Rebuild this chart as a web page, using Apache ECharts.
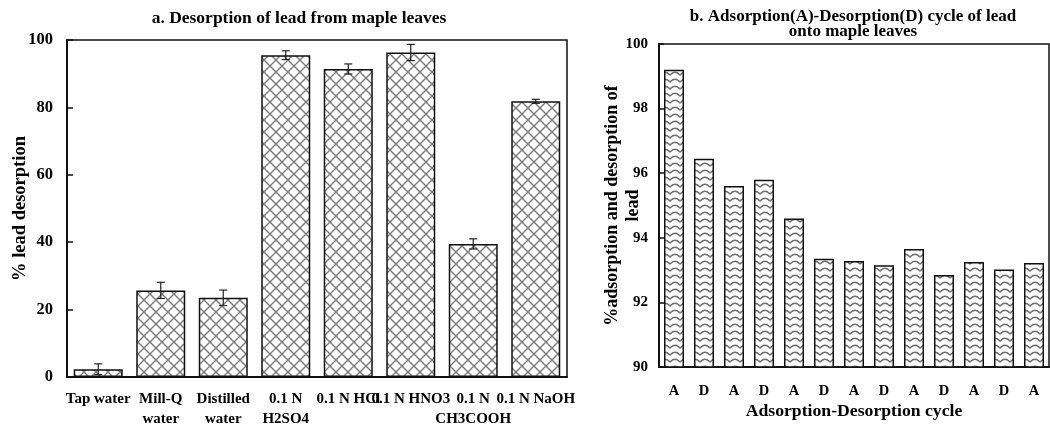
<!DOCTYPE html>
<html>
<head>
<meta charset="utf-8">
<script src="https://cdn.jsdelivr.net/npm/echarts@6/dist/echarts.min.js"></script>
<style>
  html, body { margin: 0; padding: 0; background: #fff; }
  #chart { width: 1050px; height: 430px; }
</style>
</head>
<body>
<div id="chart"></div>
<script>
// Panel a: desorption of lead by eluent
const eluents = ['Tap water', 'Mill-Q\nwater', 'Distilled\nwater', '0.1 N\nH2SO4', '0.1 N HCl', '0.1 N HNO3', '0.1 N\nCH3COOH', '0.1 N NaOH'];
const desorption = [2.3, 25.7, 23.5, 95.5, 91.4, 96.3, 39.5, 81.8];
const desorptionErr = [1.6, 2.4, 2.3, 1.3, 1.5, 2.4, 1.5, 0.6];

// Panel b: adsorption / desorption cycles
const cycles = ['A', 'D', 'A', 'D', 'A', 'D', 'A', 'D', 'A', 'D', 'A', 'D', 'A'];
const cycleValues = [99.2, 96.45, 95.6, 95.8, 94.6, 93.35, 93.28, 93.15, 93.65, 92.85, 93.25, 93.02, 93.22];

const FONT = "'Liberation Serif', 'Times New Roman', serif";

// Diagonal crosshatch fill
function crossHatch() {
  const c = document.createElement('canvas');
  c.width = 12; c.height = 12;
  const g = c.getContext('2d');
  g.fillStyle = '#fff';
  g.fillRect(0, 0, 12, 12);
  g.strokeStyle = '#7a7a7a';
  g.lineWidth = 1.4;
  g.beginPath();
  g.moveTo(0, 0); g.lineTo(12, 12);
  g.moveTo(12, 0); g.lineTo(0, 12);
  g.stroke();
  return c;
}

// Horizontal zigzag (wave) fill
function zigzag() {
  const c = document.createElement('canvas');
  c.width = 10; c.height = 7;
  const g = c.getContext('2d');
  g.fillStyle = '#fff';
  g.fillRect(0, 0, 10, 7);
  g.strokeStyle = '#707070';
  g.lineWidth = 1.3;
  g.lineJoin = 'round';
  g.beginPath();
  g.moveTo(-1, 5.2);
  g.lineTo(0, 5);
  g.quadraticCurveTo(5, -0.5, 10, 5);
  g.lineTo(11, 5.6);
  g.stroke();
  return c;
}

const chart = echarts.init(document.getElementById('chart'), null, { renderer: 'canvas' });

const textBase = { fontFamily: FONT, fontWeight: 'bold', color: '#000' };

const option = {
  animation: false,
  backgroundColor: '#fff',
  title: [
    {
      text: 'a. Desorption of lead from maple leaves',
      left: 299, top: 8, textAlign: 'center', padding: 0,
      textStyle: Object.assign({ fontSize: 17.5, lineHeight: 20 }, textBase)
    },
    {
      text: 'b. Adsorption(A)-Desorption(D) cycle of lead\nonto maple leaves',
      left: 853, top: 9, textAlign: 'center', padding: 0,
      textStyle: Object.assign({ fontSize: 17, lineHeight: 15 }, textBase)
    }
  ],
  grid: [
    { left: 67, top: 40, width: 500, height: 337, show: true, borderColor: '#111', borderWidth: 1.5, containLabel: false },
    { left: 659, top: 44, width: 390, height: 323, show: true, borderColor: '#111', borderWidth: 1.5, containLabel: false }
  ],
  xAxis: [
    {
      type: 'category', gridIndex: 0, data: eluents,
      axisLine: { lineStyle: { color: '#111', width: 2 } },
      axisTick: { show: false },
      axisLabel: Object.assign({ interval: 0, fontSize: 15, lineHeight: 20, margin: 12 }, textBase)
    },
    {
      type: 'category', gridIndex: 1, data: cycles,
      name: 'Adsorption-Desorption cycle', nameLocation: 'middle', nameGap: 35, nameMoveOverlap: false,
      nameTextStyle: Object.assign({ fontSize: 17.7 }, textBase),
      axisLine: { lineStyle: { color: '#111', width: 2 } },
      axisTick: { show: false },
      axisLabel: Object.assign({ interval: 0, fontSize: 14.5, margin: 17 }, textBase)
    }
  ],
  yAxis: [
    {
      type: 'value', gridIndex: 0, min: 0, max: 100, interval: 20,
      name: '% lead desorption', nameLocation: 'middle', nameGap: 37, nameMoveOverlap: false,
      nameTextStyle: Object.assign({ fontSize: 18.5, lineHeight: 20 }, textBase),
      axisLine: { show: true, lineStyle: { color: '#111', width: 2 } },
      axisTick: { show: true, inside: true, length: 6, lineStyle: { color: '#111', width: 1.5 } },
      splitLine: { show: false },
      axisLabel: Object.assign({ fontSize: 16.5, margin: 14 }, textBase)
    },
    {
      type: 'value', gridIndex: 1, min: 90, max: 100, interval: 2,
      name: '%adsorption and desorption of\nlead', nameLocation: 'middle', nameGap: 15.5, nameMoveOverlap: false,
      nameTextStyle: Object.assign({ fontSize: 18, lineHeight: 21 }, textBase),
      axisLine: { show: true, lineStyle: { color: '#111', width: 2 } },
      axisTick: { show: true, inside: true, length: 5, lineStyle: { color: '#111', width: 1.5 } },
      splitLine: { show: false },
      axisLabel: Object.assign({ fontSize: 15, margin: 11 }, textBase)
    }
  ],
  series: [
    {
      type: 'bar', xAxisIndex: 0, yAxisIndex: 0,
      data: desorption, barWidth: 49,
      itemStyle: { color: { image: crossHatch(), repeat: 'repeat' }, borderColor: '#111', borderWidth: 1.5 }
    },
    {
      type: 'custom', xAxisIndex: 0, yAxisIndex: 0,
      data: desorption.map((v, i) => [i, v - desorptionErr[i], v + desorptionErr[i]]),
      z: 5,
      renderItem: function (params, api) {
        const lo = api.coord([api.value(0), api.value(1)]);
        const hi = api.coord([api.value(0), api.value(2)]);
        const cap = 4;
        const style = { stroke: '#222', lineWidth: 1.2, fill: null };
        return {
          type: 'group',
          children: [
            { type: 'line', shape: { x1: lo[0], y1: lo[1], x2: hi[0], y2: hi[1] }, style: style },
            { type: 'line', shape: { x1: hi[0] - cap, y1: hi[1], x2: hi[0] + cap, y2: hi[1] }, style: style },
            { type: 'line', shape: { x1: lo[0] - cap, y1: lo[1], x2: lo[0] + cap, y2: lo[1] }, style: style }
          ]
        };
      }
    },
    {
      type: 'bar', xAxisIndex: 1, yAxisIndex: 1,
      data: cycleValues, barWidth: 20,
      itemStyle: { color: { image: zigzag(), repeat: 'repeat' }, borderColor: '#111', borderWidth: 1.5 }
    }
  ]
};

chart.setOption(option);
</script>
</body>
</html>
